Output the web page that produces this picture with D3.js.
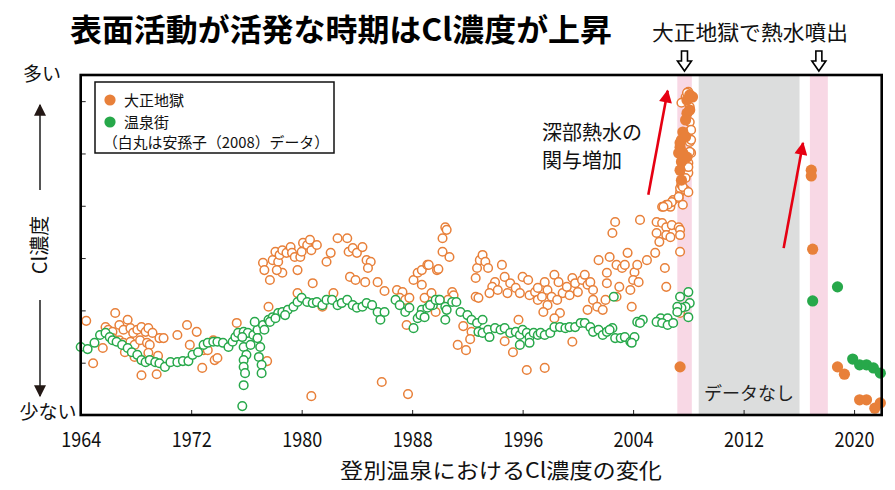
<!DOCTYPE html>
<html><head><meta charset="utf-8">
<script src="https://cdn.jsdelivr.net/npm/d3@7"></script>
<style>
html,body{margin:0;padding:0;background:#fff;}
svg{display:block;}
text{font-family:"Noto Sans CJK JP","Noto Sans",sans-serif;}
</style></head>
<body><svg id="c" width="895" height="490"></svg>
<script>
// ---------------- data ----------------
const xTickYears = [1964, 1972, 1980, 1988, 1996, 2004, 2012, 2020];
const yTickValues = [10, 20, 30, 40, 50, 60];
const eruptionPeriods = [[2007.2, 2008.25], [2016.8, 2018.1]];
const noDataPeriod = [2008.75, 2016.05];

// 大正地獄 (hollow: 安孫子(2008) data)
const taishoHollow = [
[1964.4,18.0],[1964.9,9.9],[1966.5,19.5],[1965.8,16.8],[1966.0,16.3],[1966.3,15.9],[1966.8,17.2],[1967.1,16.3],[1967.4,18.2],[1967.6,16.6],[1967.8,15.7],[1968.1,16.3],[1968.4,16.8],[1968.7,15.9],[1968.9,16.6],[1969.2,15.7],[1966.3,14.7],[1966.8,14.3],[1967.1,13.8],[1967.6,14.0],[1967.9,13.4],[1968.3,14.3],[1968.8,13.8],[1969.0,13.4],[1969.7,14.7],[1970.0,14.7],[1965.6,12.8],[1967.2,12.0],[1967.9,11.1],[1968.9,11.9],[1969.6,11.3],[1968.4,7.6],[1969.5,7.8],[1971.0,15.3],[1971.7,17.2],[1972.4,15.9],[1971.9,13.4],[1972.8,9.0],[1972.9,12.4],[1973.2,12.4],[1973.6,14.3],[1973.7,10.5],[1973.9,10.9],[1975.3,17.6],[1977.6,20.7],[1977.5,10.3],[1977.7,25.8],
[1977.2,29.1],[1977.3,27.7],[1977.9,29.6],[1978.1,31.2],[1978.3,29.3],[1978.4,30.6],[1978.6,31.5],[1978.9,31.0],[1979.2,32.1],[1979.3,31.0],[1979.5,30.2],[1979.7,27.7],[1979.9,30.2],[1980.0,31.2],[1980.1,32.9],[1980.4,32.5],[1980.6,33.5],[1980.7,31.5],[1981.1,32.5],[1978.6,27.2],[1978.2,27.7],[1981.8,29.3],[1982.1,31.0],[1982.6,33.8],[1983.3,33.8],[1983.4,31.2],[1983.7,31.9],[1984.0,31.0],[1984.4,32.1],[1984.7,29.6],[1985.0,29.3],[1984.8,28.1],[1983.5,26.4],[1983.9,25.8],[1984.6,25.4],[1985.5,25.4],[1980.8,25.2],[1979.7,23.3],[1982.3,23.3],[1986.0,23.7],[1986.9,23.9],[1987.3,23.5],[1987.1,22.4],[1987.5,22.0],[1987.8,22.4],[1988.1,25.8],[1988.4,27.2],[1988.7,27.7],[1989.1,28.7],[1989.8,27.7],[1988.7,24.9],[1988.9,22.4],[1989.4,23.3],[1989.7,19.7],[1987.6,17.2],[1981.5,20.7],[1985.8,6.3],[1980.7,3.6],[1987.7,4.0],
[1990.4,35.9],[1990.5,35.4],[1990.2,33.8],[1990.2,31.2],[1990.7,30.2],[1989.2,28.7],[1989.9,27.9],[1990.9,23.5],[1991.0,22.9],[1990.6,22.0],[1991.7,17.0],[1992.3,15.9],[1992.2,14.5],[1991.3,13.4],[1991.9,12.4],[1992.6,22.6],[1992.8,22.4],[1992.6,26.2],[1992.7,28.1],[1992.9,29.6],[1993.1,30.6],[1993.3,29.3],[1993.5,28.1],[1994.5,28.7],[1994.7,26.4],[1994.0,25.4],[1993.8,24.5],[1993.6,23.3],[1994.2,23.9],[1994.9,23.3],[1995.1,25.2],[1995.5,24.3],[1995.8,23.3],[1996.0,26.4],[1996.4,25.8],[1996.5,22.9],[1996.9,23.5],[1997.1,22.0],[1997.1,24.3],[1997.4,22.6],[1997.6,25.4],[1997.8,23.9],[1997.8,21.0],[1997.5,19.7],[1998.1,22.6],[1998.3,26.8],[1998.6,25.4],[1998.7,19.5],[1998.3,18.5],[1998.9,23.3],[1999.2,24.5],[1999.4,22.9],[1999.6,26.2],[1999.8,25.2],[2000.0,23.5],[2000.3,25.8],[2000.5,26.8],[2000.7,24.9],[2000.9,25.4],[2001.1,23.9],[2000.7,20.1],[2001.1,22.0],[2001.4,20.7],[2001.8,20.1],[2002.0,22.0],[2001.5,29.6],[2002.1,27.2],[2002.3,30.2],[2002.8,28.7],[2003.2,28.1],[2003.6,31.0],[2003.4,28.7],[2004.1,27.3],[2004.0,25.8],[2003.0,24.5],[2002.8,22.6],[2003.8,23.9],[2003.9,20.7],[2002.5,34.8],[2002.7,36.9],[1995.7,18.2],[1995.3,12.0],[1994.7,14.1],[1996.3,8.6],[1997.6,9.0],[1999.6,14.0],[1998.5,22.0],
[2004.5,37.3],[2006.1,39.8],[2006.4,40.2],[2006.7,39.8],[2006.9,41.1],[2007.3,41.5],[2007.6,40.2],[2007.4,42.6],[2007.4,43.4],[2007.5,44.0],[2007.8,43.0],[2005.7,36.9],[2006.1,36.7],[2006.4,35.9],[2006.8,36.3],[2007.3,35.9],[2007.4,35.4],[2005.7,34.8],[2005.9,33.1],[2006.4,34.4],[2006.7,34.0],[2007.4,34.4],[2005.6,31.0],[2007.4,31.2],[2005.0,29.6],[2004.3,28.7],[2002.1,25.2],[2004.4,25.4],[2006.3,28.1],[2006.4,24.5],[2007.4,19.5],
[2008.0,61.8],[2007.8,60.8],[2008.1,58.9],[2007.9,57.7],[2008.1,56.0],[2008.0,54.1],[2008.1,52.2],[2008.2,50.1],[2008.0,48.2],[2008.0,46.3],[2007.8,45.3],[2007.5,44.4],[2007.9,61.6],[2007.5,59.7],[2008.2,54.5],[2008.2,52.6],[2008.1,50.3],[2008.0,47.4],[2007.6,43.6],[2008.0,42.6],[2007.3,41.7],[2006.8,40.7],[2006.5,40.2],[2006.2,39.8]
];

// 温泉街 (hollow)
const onsenHollow = [
[1964.0,13.0],[1964.5,12.6],[1965.0,13.8],[1965.4,15.3],[1965.8,15.7],[1966.1,14.9],[1966.3,14.3],[1966.6,14.0],[1967.0,13.4],[1967.4,12.8],[1967.7,12.0],[1968.1,11.5],[1968.4,10.5],[1968.7,10.1],[1969.0,10.5],[1969.4,10.1],[1969.7,9.9],[1970.1,9.2],[1970.5,10.1],[1971.0,10.1],[1971.4,10.3],[1971.8,10.3],[1972.1,11.5],[1972.5,12.0],[1972.9,13.4],[1973.2,13.8],[1973.6,14.0],[1973.9,14.0],[1974.3,13.8],[1974.7,13.0],[1975.0,14.0],[1975.2,14.9],[1975.4,15.7],[1975.8,15.9],[1976.1,15.7],[1976.5,15.3],[1976.8,16.3],[1977.2,17.2],[1977.6,18.2],[1977.9,18.7],[1978.3,19.5],
[1975.7,14.9],[1975.8,13.0],[1976.0,11.5],[1975.8,10.5],[1975.8,9.2],[1975.9,8.0],[1975.8,5.7],[1975.7,1.7],[1976.8,14.7],[1977.0,13.0],[1976.9,11.1],[1977.1,9.6],[1977.1,8.0],[1976.3,13.4],
[1978.6,19.7],[1979.0,20.1],[1979.4,20.7],[1979.7,21.6],[1980.0,22.4],[1980.4,21.6],[1980.8,21.4],[1981.1,21.6],[1981.5,21.0],[1981.8,22.0],[1982.2,22.0],[1982.6,21.0],[1982.9,21.4],[1983.3,22.0],[1983.7,21.0],[1984.0,20.5],[1984.4,20.7],[1984.7,21.4],[1985.1,21.0],[1985.5,19.7],[1985.7,18.2],[1986.0,19.7],[1986.8,22.0],[1987.1,21.0],[1987.5,19.7],[1987.8,20.5],[1988.1,16.6],[1988.4,18.5],[1988.7,20.1],[1989.1,20.5],[1989.5,21.0],[1989.9,22.0],[1977.7,17.8],[1978.1,18.5],[1978.8,19.1],[1977.3,16.3],[1976.6,17.8],
[1988.6,19.1],[1988.9,18.7],[1989.3,21.0],[1989.7,22.0],[1990.0,22.0],[1990.4,20.7],[1990.5,20.1],[1990.9,21.6],[1991.2,21.6],[1991.5,19.7],[1992.0,19.1],[1992.3,18.2],[1992.7,17.6],[1993.1,18.2],[1992.8,15.9],[1993.1,15.7],[1993.5,16.3],[1993.6,14.9],[1994.0,16.6],[1994.4,16.3],[1994.7,16.6],[1995.1,15.7],[1995.5,15.9],[1995.8,15.3],[1996.0,16.3],[1996.3,15.7],[1996.5,14.9],[1996.8,15.7],[1997.1,15.3],[1997.3,15.7],[1997.6,15.3],[1998.0,15.7],[1998.3,16.8],[1998.7,16.8],[1999.1,16.6],[1999.4,16.8],[1999.8,16.8],[2000.2,17.6],[2000.5,17.6],[2000.9,16.8],[2001.1,15.9],[2001.5,16.3],[2001.8,15.3],[2002.1,15.9],[2002.5,16.6],[2002.7,14.7],[2003.1,14.7],[2003.4,14.9],[2003.8,14.0],[2004.1,14.9],[1990.4,18.2],[1996.5,13.8],[1995.8,13.4],[2002.6,22.6],[2004.3,17.8],
[2008.0,23.5],[2007.4,22.6],[2008.1,21.4],[2007.8,20.7],[2007.5,20.5],[2007.2,20.7],[2008.0,18.7],[2007.2,19.7],[2006.0,18.5],[2006.5,18.5],[2005.7,17.8],[2006.1,17.6],[2006.5,17.2],[2004.7,18.2],[2004.5,17.6],[2003.9,13.8],[2002.3,16.3],[2006.9,17.6]
];

// 大正地獄 (filled)
const taishoFilled = [
[2008.3,60.8],[2008.1,61.2],[2007.9,60.2],[2008.1,58.3],[2007.9,57.7],[2007.8,56.4],[2007.6,54.1],[2007.5,52.6],[2007.4,51.2],[2007.6,50.1],[2007.5,48.4],[2007.4,46.8],[2007.5,44.9],[2007.9,49.3],[2007.3,50.1],[2007.8,53.2],[2007.4,52.0],[2007.4,9.2],
[2016.9,46.8],[2016.9,45.7],[2017.0,31.7],[2018.8,9.2],[2019.3,7.8],[2020.4,2.9],[2020.9,2.9],[2021.5,1.3],[2021.9,2.3]
];
// 温泉街 (filled)
const onsenFilled = [
[2017.0,21.8],[2018.8,24.5],[2019.9,10.7],[2020.4,9.6],[2020.9,9.6],[2021.4,9.0],[2021.9,8.0]
];

// annotation arrows [fromYear, fromValue, toYear, toValue]
const redArrows = [[2005.1, 42.1, 2006.5, 62.0], [2014.9, 31.9, 2016.3, 52.0]];
const eruptionMarkerYears = [2007.72, 2017.45];

const ORANGE = "#E8803A", GREEN = "#27A84A";

// ---------------- chart ----------------
const svg = d3.select("#c");
const L = 80.7, R = 881.7, T = 75, B = 415;
const x = d3.scaleLinear().domain([1964, 2022]).range([L, R]);
const y = d3.scaleLinear().domain([0, 65]).range([B, T]);

// bands
svg.append("rect").attr("x", x(noDataPeriod[0])).attr("y", T)
  .attr("width", x(noDataPeriod[1]) - x(noDataPeriod[0])).attr("height", B - T).attr("fill", "#DCDDDD");
svg.selectAll("rect.erupt").data(eruptionPeriods).join("rect").attr("class", "erupt")
  .attr("x", d => x(d[0])).attr("y", T).attr("width", d => x(d[1]) - x(d[0])).attr("height", B - T)
  .attr("fill", "#F8D8E5");

svg.append("text").attr("x", (x(noDataPeriod[0]) + x(noDataPeriod[1])) / 2).attr("y", 400)
  .attr("text-anchor", "middle").attr("font-size", 18).attr("fill", "#222").text("データなし");

// axes
const xAxis = d3.axisBottom(x).tickValues(xTickYears).tickFormat(d3.format("d"))
  .tickSizeInner(-5).tickSizeOuter(0).tickPadding(17);
const gx = svg.append("g").attr("transform", `translate(0,${B})`).call(xAxis);
gx.select(".domain").remove();
gx.selectAll("text").attr("font-family", "'Liberation Sans',Arial,sans-serif").attr("font-size", 21)
  .attr("fill", "#111").attr("textLength", 40).attr("lengthAdjust", "spacingAndGlyphs");
gx.selectAll("line").attr("stroke", "#222");

const yAxis = d3.axisLeft(y).tickValues(yTickValues).tickFormat("").tickSizeInner(-5).tickSizeOuter(0);
const gy = svg.append("g").attr("transform", `translate(${L},0)`).call(yAxis);
gy.select(".domain").remove();
gy.selectAll("line").attr("stroke", "#222");

// points
function hollow(data, color) {
  svg.append("g").selectAll("circle").data(data).join("circle")
    .attr("cx", d => x(d[0])).attr("cy", d => y(d[1])).attr("r", 4.3)
    .attr("fill", "#fff").attr("stroke", color).attr("stroke-width", 1.5);
}
function filled(data, color) {
  svg.append("g").selectAll("circle").data(data).join("circle")
    .attr("cx", d => x(d[0])).attr("cy", d => y(d[1])).attr("r", 5.6).attr("fill", color);
}
hollow(taishoHollow, ORANGE);
hollow(onsenHollow, GREEN);
filled(taishoFilled, ORANGE);
filled(onsenFilled, GREEN);

// frame
svg.append("rect").attr("x", L).attr("y", T).attr("width", R - L).attr("height", B - T)
  .attr("fill", "none").attr("stroke", "#000").attr("stroke-width", 2.6);

// red arrows
const defs = svg.append("defs");
defs.append("marker").attr("id", "redHead").attr("viewBox", "0 0 10 10").attr("refX", 9).attr("refY", 5)
  .attr("markerWidth", 5.5).attr("markerHeight", 5).attr("orient", "auto").attr("markerUnits", "strokeWidth")
  .append("path").attr("d", "M0,0 L10,5 L0,10 Z").attr("fill", "#E60012");
svg.selectAll("line.red").data(redArrows).join("line").attr("class", "red")
  .attr("x1", d => x(d[0])).attr("y1", d => y(d[1])).attr("x2", d => x(d[2])).attr("y2", d => y(d[3]))
  .attr("stroke", "#E60012").attr("stroke-width", 2.6).attr("marker-end", "url(#redHead)");

svg.append("text").attr("x", 542).attr("y", 140).attr("font-size", 20).attr("fill", "#111").text("深部熱水の");
svg.append("text").attr("x", 542).attr("y", 168).attr("font-size", 20).attr("fill", "#111").text("関与増加");

// hollow down arrows above plot
svg.selectAll("path.down").data(eruptionMarkerYears).join("path").attr("class", "down")
  .attr("transform", d => `translate(${x(d)},0)`)
  .attr("d", "M-3,51 L3,51 L3,61 L7,61 L0,71 L-7,61 L-3,61 Z")
  .attr("fill", "#fff").attr("stroke", "#000").attr("stroke-width", 1.6).attr("stroke-linejoin", "miter");

// legend
svg.append("rect").attr("x", 95).attr("y", 82).attr("width", 239).attr("height", 71)
  .attr("fill", "#fff").attr("stroke", "#111").attr("stroke-width", 1.5);
svg.append("circle").attr("cx", 110).attr("cy", 100).attr("r", 5.6).attr("fill", ORANGE);
svg.append("circle").attr("cx", 110).attr("cy", 122).attr("r", 5.6).attr("fill", GREEN);
svg.append("text").attr("x", 124).attr("y", 105.5).attr("font-size", 15).attr("fill", "#111").text("大正地獄");
svg.append("text").attr("x", 124).attr("y", 127.5).attr("font-size", 15).attr("fill", "#111").text("温泉街");
svg.append("text").attr("x", 103).attr("y", 147.5).attr("font-size", 15).attr("fill", "#111")
  .attr("textLength", 226).attr("lengthAdjust", "spacingAndGlyphs").text("（白丸は安孫子（2008）データ）");

// titles
svg.append("text").attr("x", 70).attr("y", 41).attr("font-size", 31).attr("font-weight", "bold").attr("fill", "#000")
  .attr("textLength", 542).attr("lengthAdjust", "spacingAndGlyphs").text("表面活動が活発な時期はCl濃度が上昇");
svg.append("text").attr("x", 750).attr("y", 40).attr("text-anchor", "middle").attr("font-size", 21).attr("fill", "#111")
  .attr("textLength", 196).attr("lengthAdjust", "spacingAndGlyphs").text("大正地獄で熱水噴出");

svg.append("text").attr("x", 501).attr("y", 478).attr("text-anchor", "middle").attr("font-size", 21).attr("fill", "#111")
  .attr("textLength", 322).attr("lengthAdjust", "spacingAndGlyphs").text("登別温泉におけるCl濃度の変化");

// y-axis annotation
svg.append("text").attr("x", 42).attr("y", 81).attr("text-anchor", "middle").attr("font-size", 19).attr("fill", "#111").text("多い");
svg.append("text").attr("x", 48).attr("y", 419).attr("text-anchor", "middle").attr("font-size", 19).attr("fill", "#111").text("少ない");
svg.append("text").attr("transform", "translate(47,245) rotate(-90)").attr("text-anchor", "middle")
  .attr("font-size", 20).attr("fill", "#111").text("Cl濃度");
defs.append("marker").attr("id", "grayHead").attr("viewBox", "0 0 10 10").attr("refX", 9).attr("refY", 5)
  .attr("markerWidth", 7).attr("markerHeight", 6).attr("orient", "auto").attr("markerUnits", "strokeWidth")
  .append("path").attr("d", "M0,0 L10,5 L0,10 Z").attr("fill", "#231815");
svg.append("line").attr("x1", 40).attr("y1", 190).attr("x2", 40).attr("y2", 105)
  .attr("stroke", "#555").attr("stroke-width", 2).attr("marker-end", "url(#grayHead)");
svg.append("line").attr("x1", 40).attr("y1", 300).attr("x2", 40).attr("y2", 396)
  .attr("stroke", "#555").attr("stroke-width", 2).attr("marker-end", "url(#grayHead)");
</script></body></html>
